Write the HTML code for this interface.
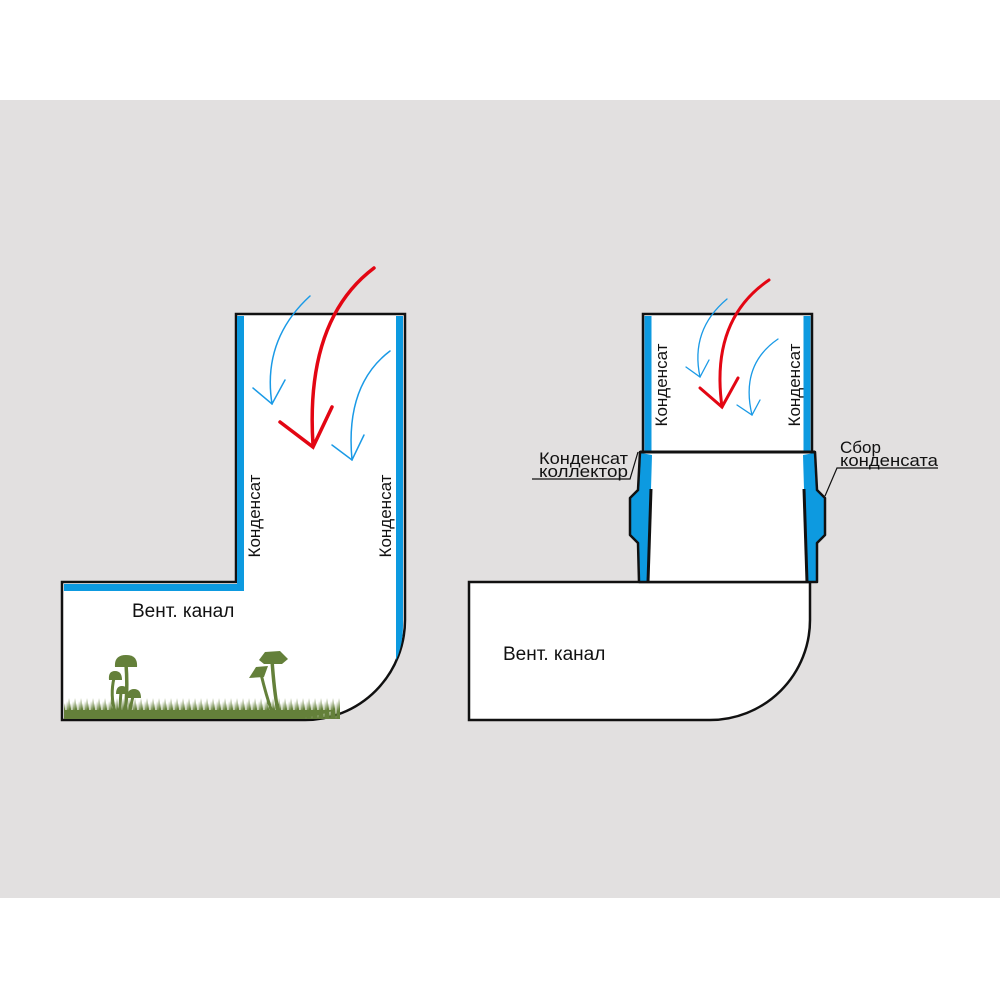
<!DOCTYPE html>
<html><head><meta charset="utf-8"><style>
html,body{margin:0;padding:0;background:#fff}
svg{display:block}
text{font-family:"Liberation Sans",sans-serif;fill:#111}
</style></head><body>
<svg width="1000" height="1000" viewBox="0 0 1000 1000">
<defs>
<pattern id="gr" x="0" y="697" width="6" height="22" patternUnits="userSpaceOnUse">
<polygon points="0,22 1,4 2,14 3,1 4,12 5,6 6,22" fill="#64803a"/>
</pattern>
</defs>
<rect x="0" y="100" width="1000" height="798" fill="#e2e0e0"/>

<!-- LEFT DIAGRAM -->
<path d="M62,582 H236 V314 H405 V620 A100,100 0 0 1 305,720 H62 Z" fill="#fff" stroke="#111" stroke-width="2.5"/>
<path d="M64,584 H237 V316 H244 V591 H64 Z" fill="#0d9ae0"/>
<path d="M396,316 H403 V625 Q403,645 396,660 Z" fill="#0d9ae0"/>
<!-- grass -->
<rect x="64" y="697" width="276" height="22" fill="url(#gr)"/>
<path d="M64,710 H335 Q320,716 300,718.5 H64 Z" fill="#64803a"/>
<!-- mushrooms left -->
<g fill="#64803a" stroke="#64803a">
<path d="M126,664 Q128,690 125,712" stroke-width="3.5" fill="none"/>
<path d="M114,678 Q110,695 115,712" stroke-width="3" fill="none"/>
<path d="M121,692 Q120,703 120,712" stroke-width="3" fill="none"/>
<path d="M133,696 Q131,704 130,712" stroke-width="3" fill="none"/>
<path d="M115,667 Q114,655 126,655 Q138,655 137,667 Z" stroke="none"/>
<path d="M109,680 Q108,671 115,671 Q122,671 122,680 Z" stroke="none"/>
<path d="M116,694 Q116,686 122,686 Q128,686 128,694 Z" stroke="none"/>
<path d="M127,698 Q127,689 134,689 Q141,689 141,698 Z" stroke="none"/>
<path d="M272,660 Q274,690 278,712" stroke-width="3.5" fill="none"/>
<path d="M261,674 Q266,695 272,712" stroke-width="3" fill="none"/>
<path d="M259,660 L265,652 L280,651 L288,659 L282,664 L264,664 Z" stroke="none"/>
<path d="M249,678 L256,667 L268,666 L264,677 Z" stroke="none"/>
</g>
<!-- arrows left -->
<g fill="none" stroke-linecap="round">
<path d="M374,268 Q305,320 313,445" stroke="#e30613" stroke-width="3.5"/>
<path d="M280,422 L313,447 L332,407" stroke="#e30613" stroke-width="3.5"/>
<path d="M310,296 Q262,340 272,404" stroke="#1a9ae6" stroke-width="1.5"/>
<path d="M253,388 L272,404 L285,380" stroke="#1a9ae6" stroke-width="1.5"/>
<path d="M390,351 Q345,385 352,460" stroke="#1a9ae6" stroke-width="1.5"/>
<path d="M332,445 L352,460 L364,435" stroke="#1a9ae6" stroke-width="1.5"/>
</g>
<text x="0" y="0" font-size="17" text-anchor="middle" transform="translate(260,516) rotate(-90)">Конденсат</text>
<text x="0" y="0" font-size="17" text-anchor="middle" transform="translate(391,516) rotate(-90)">Конденсат</text>
<text x="132" y="617" font-size="19">Вент. канал</text>

<!-- RIGHT DIAGRAM -->
<path d="M469,582 H810 V620 A100,100 0 0 1 710,720 H469 Z" fill="#fff" stroke="#111" stroke-width="2.5"/>
<rect x="643" y="314" width="169" height="138" fill="#fff" stroke="#111" stroke-width="2.5"/>
<rect x="644.5" y="316" width="7" height="135" fill="#0d9ae0"/>
<rect x="803.5" y="316" width="7" height="135" fill="#0d9ae0"/>
<!-- coupler -->
<path d="M640,452 L638,490 L630,498 L630,535 L638,543 L639,582 L817,582 L817,543 L825,535 L825,498 L817,490 L815,452 Z" fill="#fff"/>
<path d="M641,453 L639,490 L631,498 L631,535 L639,543 L640,581 L648,581 L651,489 L652,455 Z" fill="#0d9ae0"/>
<path d="M814,453 L816,490 L824,498 L824,535 L816,543 L816,581 L807,581 L804,489 L803,455 Z" fill="#0d9ae0"/>
<path d="M640,452 L638,490 L630,498 L630,535 L638,543 L639,582 L817,582 L817,543 L825,535 L825,498 L817,490 L815,452 Z" fill="none" stroke="#111" stroke-width="2.5" stroke-linejoin="round"/>
<line x1="640" y1="452" x2="815" y2="452" stroke="#111" stroke-width="3"/>
<line x1="651" y1="489" x2="648" y2="582" stroke="#111" stroke-width="3"/>
<line x1="804" y1="489" x2="807" y2="582" stroke="#111" stroke-width="3"/>
<!-- leaders -->
<polyline points="532,479 630,479 638,452" fill="none" stroke="#111" stroke-width="1.2"/>
<polyline points="938,468 837,468 825,496" fill="none" stroke="#111" stroke-width="1.2"/>
<text x="539" y="464" font-size="17" textLength="89" lengthAdjust="spacingAndGlyphs">Конденсат</text>
<text x="539" y="477" font-size="17" textLength="89" lengthAdjust="spacingAndGlyphs">коллектор</text>
<text x="840" y="453" font-size="17">Сбор</text>
<text x="840" y="466" font-size="17" textLength="98" lengthAdjust="spacingAndGlyphs">конденсата</text>
<!-- arrows right -->
<g fill="none" stroke-linecap="round">
<path d="M769,280 Q710,320 722,407" stroke="#e30613" stroke-width="3"/>
<path d="M700,388 L722,407 L738,378" stroke="#e30613" stroke-width="3"/>
<path d="M727,299 Q690,330 700,377" stroke="#1a9ae6" stroke-width="1.3"/>
<path d="M686,367 L700,377 L709,360" stroke="#1a9ae6" stroke-width="1.3"/>
<path d="M778,339 Q740,365 752,415" stroke="#1a9ae6" stroke-width="1.3"/>
<path d="M737,405 L752,415 L760,400" stroke="#1a9ae6" stroke-width="1.3"/>
</g>
<text x="0" y="0" font-size="17" text-anchor="middle" transform="translate(667,385) rotate(-90)">Конденсат</text>
<text x="0" y="0" font-size="17" text-anchor="middle" transform="translate(800,385) rotate(-90)">Конденсат</text>
<text x="503" y="660" font-size="19">Вент. канал</text>
</svg>
</body></html>
